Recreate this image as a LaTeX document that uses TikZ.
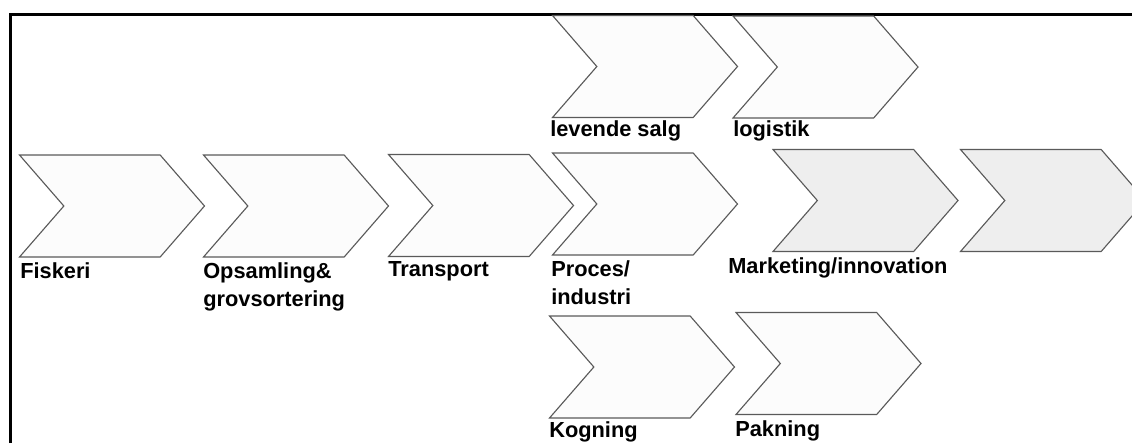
\documentclass[tikz,border=0pt]{standalone}
\usepackage{fontspec}
\setmainfont{Liberation Sans}
\usepackage{tikz}
\usetikzlibrary{positioning,shapes.symbols}
\definecolor{pilkant}{HTML}{5A5A5A}
\definecolor{pilgraa}{HTML}{EEEEEE}
\definecolor{pilhvid}{HTML}{FCFCFC}
\tikzset{
  % pile i vaerdikaeden
  chev/.style={signal,signal from=west,signal to=east,signal pointer angle=98,
               draw=pilkant,fill=pilhvid,line width=0.8pt,inner sep=0pt,
               minimum width=185*0.025cm,minimum height=102*0.025cm},
  chevg/.style={chev,fill=pilgraa},
  lbl/.style={anchor=north west,inner sep=0pt,align=left,
              font=\fontsize{15.5}{20.5}\selectfont\bfseries},
  ramme/.style={draw=black,line width=1.8pt},
}
\begin{document}
\begin{tikzpicture}[x=0.025cm,y=-0.025cm]
\useasboundingbox (0,0) rectangle (1132,443);
  \draw[ramme] (10.5,443) -- (10.5,14.5) -- (1132,14.5);
  % hovedkaeden
  \node[chev] (fiskeri) at (112,206) {};
  \node[chev] (opsaml) at (296,206) {};
  \node[chev] (transport) at (481,205.5) {};
  \node[chev] (proces) at (645,204) {};
  \node[chevg] (marketing) at (865.5,200.5) {};
  \node[chevg] (tom) at (1053,200.5) {};
  % grene
  \node[chev] (salg) at (645,66.5) {};
  \node[chev] (logistik) at (825.5,67) {};
  \node[chev] (kogning) at (642,367) {};
  \node[chev] (pakning) at (828.5,363.5) {};
  % tekster
  \node[lbl] (t-fiskeri) at (20,262) {Fiskeri};
  \node[lbl] (t-opsaml) at (203,262) {Opsamling\&\\grovsortering};
  \node[lbl] (t-transport) at (388,261) {Transport};
  \node[lbl] (t-proces) at (551,260) {Proces/\\industri};
  \node[lbl] (t-marketing) at (728,257) {Marketing/innovation};
  \node[lbl] (t-salg) at (550,120) {levende salg};
  \node[lbl] (t-logistik) at (733,120) {logistik};
  \node[lbl] (t-kogning) at (549,421) {Kogning};
  \node[lbl] (t-pakning) at (735,420) {Pakning};
\end{tikzpicture}
\end{document}
